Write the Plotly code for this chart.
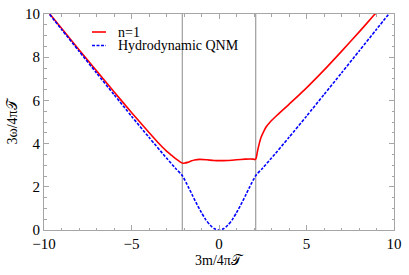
import plotly.graph_objects as go

# ---- data ----
red_x = [-10, -9, -8, -7, -6, -5, -4, -3.5, -3, -2.7, -2.5, -2.3, -2.15, -2.05, -1.95,
         -1.8, -1.6, -1.4, -1.1, -0.7, -0.3, 0, 0.5, 1.0, 1.5, 1.8, 1.95, 2.05, 2.12,
         2.2, 2.3, 2.4, 2.55, 2.7, 2.9, 3.3, 4.0, 4.9, 6.0, 7.0, 8.0, 8.86, 9.2]
red_y = [10.33, 9.34, 8.35, 7.37, 6.40, 5.44, 4.51, 4.06, 3.65, 3.45, 3.32, 3.20, 3.12, 3.09, 3.10,
         3.13, 3.19, 3.24, 3.27, 3.25, 3.22, 3.21, 3.22, 3.25, 3.28, 3.29, 3.28, 3.26, 3.32,
         3.65, 4.00, 4.28, 4.55, 4.78, 4.98, 5.30, 5.82, 6.50, 7.40, 8.27, 9.16, 9.95, 10.25]

blue_x = [-10, -9, -8, -7, -6, -5, -4, -3, -2.5, -2.1, -1.75, -1.5, -1.25, -1.0, -0.75, -0.5,
          -0.25, 0, 0.25, 0.5, 0.75, 1.0, 1.25, 1.5, 1.75, 2.1, 2.5, 3, 4, 5, 6, 7, 8, 9, 10]
blue_y = [10.30, 9.29, 8.28, 7.27, 6.27, 5.27, 4.29, 3.33, 2.87, 2.52, 1.99, 1.575, 1.17, 0.80, 0.47, 0.22,
          0.055, 0.0, 0.055, 0.22, 0.47, 0.80, 1.17, 1.575, 1.99, 2.52, 2.87, 3.33, 4.29, 5.27, 6.27, 7.27, 8.28, 9.29, 10.30]

vlines_x = [-2.1, 2.1]
series_names = ["n=1", "Hydrodynamic QNM"]
x_ticks = [-10, -5, 0, 5, 10]
x_tick_text = ["\u221210", "\u22125", "0", "5", "10"]
y_ticks = [0, 2, 4, 6, 8, 10]
x_title = "3m/4\u03c0\U0001D4AF"
y_title = "3\u03c9/4\u03c0\U0001D4AF"

RED = "#ff0000"
BLUE = "#0000ff"
FRAME = "#a6a6a6"
FONT = "Liberation Serif, Times New Roman, DejaVu Serif, serif"

fig = go.Figure()
for xv in vlines_x:
    fig.add_trace(go.Scatter(x=[xv, xv], y=[0, 10], mode="lines",
                             line=dict(color="#8a8a8a", width=1), showlegend=False, hoverinfo="skip"))
fig.add_trace(go.Scatter(x=red_x, y=red_y, mode="lines", line=dict(color=RED, width=1.6, shape="spline", smoothing=0.6),
                         name=series_names[0], showlegend=False))
fig.add_trace(go.Scatter(x=blue_x, y=blue_y, mode="lines", line=dict(color=BLUE, width=1.6, dash="3px,1.5px", shape="spline", smoothing=0.6),
                         name=series_names[1], showlegend=False))

# plot-area geometry in pixels (for legend/title placement)
L, R, T, B = 44, 394, 14, 230
def px(xp):
    return (xp - L) / (R - L)
def py(yp):
    return (B - yp) / (B - T)

# manual legend (matches the short Mathematica legend swatches)
legend_rows = [(32, RED, "solid"), (45.5, BLUE, "3px,1.5px")]
for (yy, col, dsh), name in zip(legend_rows, series_names):
    fig.add_shape(type="line", xref="paper", yref="paper", x0=px(92), x1=px(106), y0=py(yy), y1=py(yy),
                  line=dict(color=col, width=1.6, dash=dsh))
    fig.add_annotation(xref="paper", yref="paper", x=px(116), y=py(yy), text=name, showarrow=False,
                       xanchor="left", yanchor="middle", font=dict(family=FONT, size=14, color="black"))

# axis titles
fig.add_annotation(xref="paper", yref="paper", x=px(219), y=py(260), text=x_title, showarrow=False,
                   xanchor="center", yanchor="middle", font=dict(family=FONT, size=14, color="black"))
fig.add_annotation(xref="paper", yref="paper", x=px(12), y=py(121.5), text=y_title, showarrow=False,
                   textangle=-90, xanchor="center", yanchor="middle", font=dict(family=FONT, size=14, color="black"))

axis_common = dict(showline=True, linecolor=FRAME, linewidth=1, mirror="ticks", ticks="inside",
                   tickcolor=FRAME, ticklen=5, tickwidth=1, showgrid=False, zeroline=False, automargin=False,
                   tickfont=dict(family=FONT, size=15, color="black"))
fig.update_xaxes(range=[-10, 10], tickvals=x_ticks, ticktext=x_tick_text,
                 minor=dict(dtick=1, ticks="inside", ticklen=2.5, tickcolor=FRAME, showgrid=False),
                 **axis_common)
fig.update_yaxes(range=[0, 10], tickvals=y_ticks,
                 minor=dict(dtick=0.5, ticks="inside", ticklen=2.5, tickcolor=FRAME, showgrid=False),
                 **axis_common)
fig.update_layout(width=409, height=275, margin=dict(l=L, r=409 - R, t=T, b=275 - B),
                  paper_bgcolor="white", plot_bgcolor="white", showlegend=False)
fig.write_html("out.html", config={"displayModeBar": False},
               post_script="document.body.style.margin='0';document.body.style.overflow='hidden';"
                           "document.documentElement.style.overflow='hidden';")
